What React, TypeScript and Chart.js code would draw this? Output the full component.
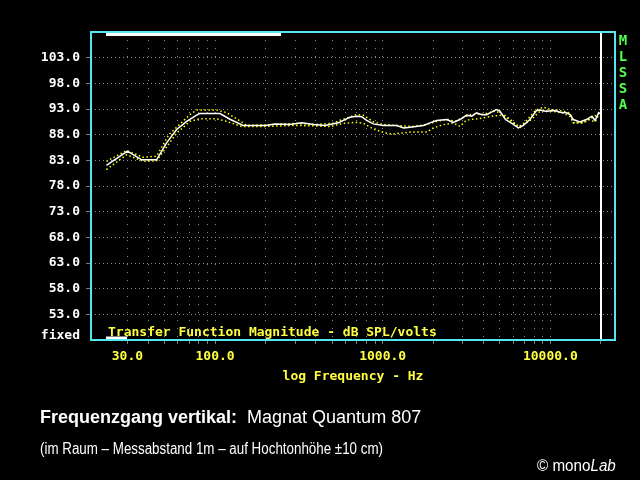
import React, { useEffect, useRef } from "react";
import { Chart, registerables } from "chart.js";

Chart.register(...registerables);

// ---- data ----
const whiteFreq = [22.5, 30, 36.5, 44.8, 51.4, 59, 67.7, 77.6, 81, 107, 122.7, 147, 200, 228, 279, 329, 385, 453, 543, 637, 700, 750, 802, 879, 1008, 1212, 1334, 1459, 1747, 1914, 2096, 2410, 2637, 2890, 3170, 3400, 3630, 3900, 4170, 4450, 4770, 5000, 5400, 6020, 6445, 6900, 7550, 8270, 8690, 9500, 10200, 10900, 11600, 12500, 13100, 13700, 15000, 16400, 17700, 18500, 19400, 20000];
const whiteDb = [82.0, 84.8, 83.1, 83.1, 86.4, 89.0, 90.6, 91.8, 92.1, 92.1, 91.0, 89.8, 89.8, 90.1, 90.0, 90.3, 90.0, 89.8, 90.3, 91.4, 91.6, 91.5, 90.8, 90.1, 89.8, 89.8, 89.3, 89.45, 89.8, 90.3, 90.75, 90.95, 90.4, 90.95, 91.8, 91.6, 92.25, 91.9, 91.9, 92.4, 92.9, 92.6, 90.95, 90.0, 89.3, 89.8, 90.95, 92.7, 92.8, 92.5, 92.7, 92.6, 92.3, 92.25, 91.9, 90.95, 90.5, 90.95, 91.6, 90.75, 92.3, 92.0];

const upperFreq = [22.5, 29.6, 37.3, 44.8, 53, 70.8, 77.6, 102, 117, 147, 154, 200, 300, 400, 500, 556, 700, 767, 880, 1000, 1200, 1500, 1800, 2100, 2400, 2700, 3000, 3400, 4000, 4700, 5200, 5500, 6000, 6450, 7000, 7550, 8200, 9100, 10000, 11000, 13100, 13700, 15700, 17000, 19400];
const upperDb = [82.8, 84.9, 83.6, 83.8, 88.0, 91.9, 92.8, 92.8, 92.3, 90.3, 89.8, 89.9, 90.2, 90.0, 90.2, 90.8, 91.9, 91.8, 90.5, 90.0, 89.8, 89.6, 89.9, 90.6, 91.0, 90.6, 91.3, 92.0, 92.0, 92.6, 92.0, 91.5, 90.5, 89.5, 90.3, 91.5, 92.8, 93.35, 92.9, 92.8, 92.25, 90.3, 90.3, 91.0, 92.0];

const lowerFreq = [22.5, 29.7, 37.3, 44.8, 51.4, 59, 70.8, 81.2, 102, 117, 144, 200, 300, 400, 485, 582, 700, 767, 880, 1008, 1130, 1459, 1835, 2000, 2300, 2640, 2890, 3100, 3300, 3700, 4500, 5200, 6020, 6600, 7700, 8700, 10000, 12000, 13100, 13700, 15700, 17000, 18500, 19400];
const lowerDb = [81.2, 84.1, 82.8, 82.9, 85.6, 88.3, 90.6, 91.1, 91.1, 90.6, 89.6, 89.6, 89.8, 89.7, 89.6, 90.2, 90.4, 90.2, 89.1, 88.45, 88.1, 88.5, 88.5, 89.3, 89.95, 90.3, 89.6, 90.6, 90.95, 91.1, 91.6, 91.8, 90.3, 89.45, 90.95, 92.6, 92.6, 92.2, 91.5, 90.3, 90.3, 90.95, 90.5, 91.8];

const yTicks = [53, 58, 63, 68, 73, 78, 83, 88, 93, 98, 103];
const xTicks = [30, 40, 50, 60, 70, 80, 90, 100, 200, 300, 400, 500, 600, 700, 800, 900, 1000, 2000, 3000, 4000, 5000, 6000, 7000, 8000, 9000, 10000, 20000];
const xLabelled = [30, 100, 1000, 10000];
const yMin = 48;
const yMax = 108;
const xMin = 18.2;
const xMax = 24300;
const cursorFreq = 20000;

const plotTitle = "Transfer Function Magnitude - dB SPL/volts";
const xAxisTitle = "log Frequency - Hz";
const sideLabel = "MLSSA";
const scaleMode = "fixed";

const MONO = "'DejaVu Sans Mono', 'Liberation Mono', monospace";
const YELLOW = "#ffff40";

function toPoints(f: number[], d: number[]) {
  return f.map((x, i) => ({ x, y: d[i] }));
}

const decoPlugin = {
  id: "mlssaDeco",
  afterDatasetsDraw(chart: any) {
    const { ctx, chartArea: a, scales } = chart;
    ctx.save();
    ctx.setLineDash([]);
    // cursor line
    const cx = Math.round(scales.x.getPixelForValue(cursorFreq));
    ctx.fillStyle = "#ffffff";
    ctx.fillRect(cx - 1, a.top, 2, a.bottom - a.top);
    // scroll bars
    ctx.fillRect(a.left + 15, a.top + 1, 175, 3);
    ctx.fillRect(a.left + 15, a.bottom - 3.5, 21, 3);
    // frame
    ctx.strokeStyle = "#55e6f0";
    ctx.lineWidth = 2;
    ctx.strokeRect(a.left, a.top, a.right - a.left, a.bottom - a.top);
    // inner title
    ctx.font = `bold 13px ${MONO}`;
    ctx.fillStyle = YELLOW;
    ctx.textAlign = "left";
    ctx.textBaseline = "middle";
    ctx.fillText(plotTitle, a.left + 17, a.bottom - 7);
    // fixed
    ctx.fillStyle = "#ffffff";
    ctx.textAlign = "right";
    ctx.fillText(scaleMode, a.left - 11, a.bottom - 4);
    // MLSSA
    ctx.fillStyle = "#50ff50";
    ctx.textAlign = "center";
    ctx.font = `bold 14px ${MONO}`;
    sideLabel.split("").forEach((ch, i) => ctx.fillText(ch, a.right + 8, a.top + 9 + i * 16.2));
    ctx.restore();
  },
};

export default function App() {
  const ref = useRef<HTMLCanvasElement | null>(null);

  useEffect(() => {
    if (!ref.current) return;
    const font = { family: MONO, size: 13, weight: "bold" as const };
    const chart = new Chart(ref.current, {
      type: "line",
      data: {
        datasets: [
          {
            label: "Achse",
            data: toPoints(whiteFreq, whiteDb),
            borderColor: "#ffffff",
            borderWidth: 1.5,
            pointRadius: 0,
            tension: 0,
            order: 0,
          },
          {
            label: "+10 cm",
            data: toPoints(upperFreq, upperDb),
            borderColor: "#ffff00",
            borderWidth: 1.5,
            borderDash: [1.5, 2.5],
            pointRadius: 0,
            tension: 0,
            order: 1,
          },
          {
            label: "-10 cm",
            data: toPoints(lowerFreq, lowerDb),
            borderColor: "#ffff00",
            borderWidth: 1.5,
            borderDash: [1.5, 2.5],
            pointRadius: 0,
            tension: 0,
            order: 2,
          },
        ],
      },
      options: {
        animation: false,
        responsive: false,
        devicePixelRatio: 1,
        layout: { padding: { top: 32, right: 25, left: 0, bottom: 90 } },
        plugins: {
          legend: { display: false },
          tooltip: { enabled: false },
          title: { display: false },
        },
        scales: {
          x: {
            type: "logarithmic",
            min: xMin,
            max: xMax,
            afterBuildTicks: (s: any) => {
              s.ticks = xTicks.map((v) => ({ value: v }));
            },
            afterFit: (s: any) => {
              s.height = 50;
            },
            border: { display: false, dash: [1, 7] },
            grid: { color: "#8c8c8c", lineWidth: 1, tickLength: 4, tickColor: "#7a7a7a", tickBorderDash: [] } as any,
            ticks: {
              autoSkip: false,
              maxRotation: 0,
              minRotation: 0,
              color: YELLOW,
              font,
              padding: 5,
              callback: (v: any) => (xLabelled.includes(Number(v)) ? Number(v).toFixed(1) : ""),
            },
            title: {
              display: true,
              text: xAxisTitle,
              color: YELLOW,
              font,
              padding: { top: 0, bottom: 6 },
            },
          },
          y: {
            type: "linear",
            min: yMin,
            max: yMax,
            afterBuildTicks: (s: any) => {
              s.ticks = yTicks.map((v) => ({ value: v }));
            },
            afterFit: (s: any) => {
              s.width = 91;
            },
            border: { display: false, dash: [1, 3] },
            grid: { color: "#8c8c8c", lineWidth: 1, tickLength: 5, tickColor: "#7a7a7a", tickBorderDash: [] } as any,
            ticks: {
              color: "#ffffff",
              font,
              padding: 6,
              callback: (v: any) => Number(v).toFixed(1),
            },
          },
        },
      },
      plugins: [decoPlugin],
    } as any);
    return () => chart.destroy();
  }, []);

  const sans = "'Liberation Sans', Arial, sans-serif";
  return (
    <div style={{ position: "fixed", left: 0, top: 0, width: 640, height: 480, background: "#000", overflow: "hidden" }}>
      <canvas ref={ref} width={640} height={480} style={{ position: "absolute", left: 0, top: 0, width: 640, height: 480 }} />
      <div style={{ position: "absolute", left: 40, top: 405, color: "#fff", fontFamily: sans, fontSize: 18, lineHeight: "24px", whiteSpace: "nowrap" }}>
        <b>Frequenzgang vertikal:</b>&nbsp;&nbsp;Magnat Quantum 807
      </div>
      <div style={{ position: "absolute", left: 40, top: 439, color: "#fff", fontFamily: sans, fontSize: 16, lineHeight: "20px", whiteSpace: "nowrap", transform: "scaleX(0.835)", transformOrigin: "left center" }}>
        (im Raum – Messabstand 1m – auf Hochtonhöhe ±10 cm)
      </div>
      <div style={{ position: "absolute", left: 537, top: 456, color: "#fff", fontFamily: sans, fontSize: 16, lineHeight: "20px", whiteSpace: "nowrap", transform: "scaleX(0.95)", transformOrigin: "left center" }}>
        © mono<i>Lab</i>
      </div>
    </div>
  );
}
